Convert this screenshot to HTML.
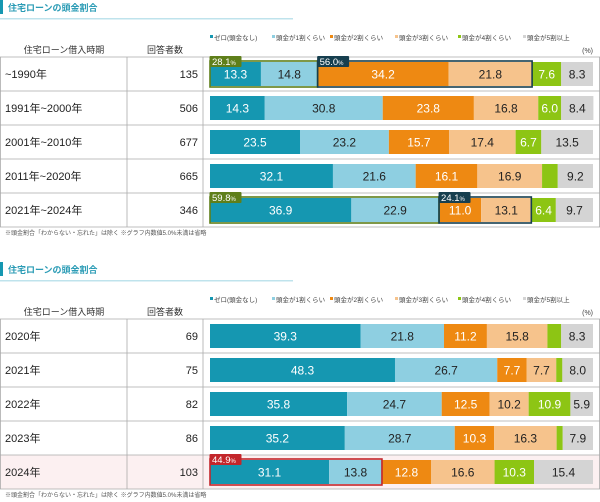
<!DOCTYPE html>
<html><head><meta charset="utf-8">
<style>
body{margin:0;background:#fff;width:600px;height:502px;overflow:hidden;font-family:"Liberation Sans","Noto Sans CJK JP",sans-serif;}
svg{display:block}
</style></head><body>
<svg id="root" width="600" height="502" xmlns="http://www.w3.org/2000/svg"></svg>
<script>
const seriesNames=["ゼロ(頭金なし)","頭金が1割くらい","頭金が2割くらい","頭金が3割くらい","頭金が4割くらい","頭金が5割以上"];
const colors=["#1597b1","#8ecfe1","#ee8912","#f6c38c","#8dc514","#d4d4d4"];
const txtColors=["#fff","#222","#fff","#222","#fff","#222"];
const cats1=["~1990年","1991年~2000年","2001年~2010年","2011年~2020年","2021年~2024年"];
const n1=[135,506,677,665,346];
const s1_zero=[13.3,14.3,23.5,32.1,36.9];
const s1_one=[14.8,30.8,23.2,21.6,22.9];
const s1_two=[34.2,23.8,15.7,16.1,11.0];
const s1_three=[21.8,16.8,17.4,16.9,13.1];
const s1_four=[7.6,6.0,6.7,4.1,6.4];
const s1_five=[8.3,8.4,13.5,9.2,9.7];
const cats2=["2020年","2021年","2022年","2023年","2024年"];
const n2=[69,75,82,86,103];
const s2_zero=[39.3,48.3,35.8,35.2,31.1];
const s2_one=[21.8,26.7,24.7,28.7,13.8];
const s2_two=[11.2,7.7,12.5,10.3,12.8];
const s2_three=[15.8,7.7,10.2,16.3,16.6];
const s2_four=[3.6,1.6,10.9,1.6,10.3];
const s2_five=[8.3,8.0,5.9,7.9,15.4];
const hl1=[[0,0,1,"28.1","#5f7f1a"],[0,2,3,"56.0","#173f4f"],[4,0,1,"59.8","#5f7f1a"],[4,2,3,"24.1","#173f4f"]];
const hl2=[[4,0,1,"44.9","#c3262b"]];

const NS="http://www.w3.org/2000/svg";
const root=document.getElementById('root');
function mk(tag,attrs,parent,text){const e=document.createElementNS(NS,tag);for(const k in attrs)e.setAttribute(k,attrs[k]);if(text!==undefined)e.textContent=text;(parent||root).appendChild(e);return e;}
const X0=210,X1=593;
function xs(v){return v/100*(X1-X0);}
const legendX=[210,272,330,395,458,523];

function drawChart(top,cats,ns,series,hls,pinkRow,idx){
  const g=mk('g',{});
  
  
  const tb=mk('rect',{x:0,y:top,width:3,height:14,fill:'#1597b1'},g);
  
  const t=mk('text',{x:8,y:top+11,'font-size':9,fill:'#2a9bb5','font-weight':'bold'},g,'住宅ローンの頭金割合');
  
  const ul=mk('rect',{x:0,y:top+18,width:293,height:1.5,fill:'#bfe3ec'},g);
  
  const ly=top+40;
  seriesNames.forEach((s,i)=>{
    const lx=legendX[i];
    const r=mk('rect',{x:lx,y:ly-5,width:3,height:3,fill:colors[i]},g);
    
    const tx=mk('text',{x:lx+4,y:ly,'font-size':6.5,fill:'#444'},g,s);
    
  });
  const pc=mk('text',{x:593,y:top+53,'font-size':7,fill:'#444','text-anchor':'end'},g,'(%)');
  
  const h1=mk('text',{x:64,y:top+53,'font-size':9,fill:'#333','text-anchor':'middle'},g,'住宅ローン借入時期');
  
  const h2=mk('text',{x:165,y:top+53,'font-size':9,fill:'#333','text-anchor':'middle'},g,'回答者数');
  
  const tTop=top+57,P=34;
  if(pinkRow>=0){const pr=mk('rect',{x:0,y:tTop+pinkRow*P,width:600,height:P,fill:'#fcf0f1'},g);
    }
  for(let i=0;i<=cats.length;i++){
    const l=mk('line',{x1:0,x2:600,y1:tTop+i*P,y2:tTop+i*P,stroke:'#aaa','stroke-width':0.8},g);
    
  }
  [0.5,127,203,599.5].forEach(x=>{const l=mk('line',{x1:x,x2:x,y1:tTop,y2:tTop+cats.length*P,stroke:'#aaa','stroke-width':0.8},g);
    });
  cats.forEach((c,i)=>{
    const cy=tTop+i*P+P/2;
    const ct=mk('text',{x:5,y:cy+4,'font-size':11,fill:'#222'},g,c);
    
    const nt=mk('text',{x:198,y:cy+4,'font-size':11,fill:'#222','text-anchor':'end'},g,String(ns[i]));
    
    let acc=0;
    series.forEach((arr,si)=>{
      const v=arr[i];const x=X0+xs(acc);const w=xs(v);
      const b=mk('rect',{x:x,y:cy-12,width:w,height:24,fill:colors[si]},g);
      
      if(v>=5){const vt=mk('text',{x:x+w/2,y:cy+4.5,'font-size':12,fill:txtColors[si],'text-anchor':'middle'},g,v.toFixed(1));
        }
      acc+=v;
    });
  });
  hls.forEach(h=>{
    const [row,a,b,lab,col]=h;
    const cy=tTop+row*P+P/2;
    let s=0;for(let k=0;k<a;k++)s+=series[k][row];
    let e=s;for(let k=a;k<=b;k++)e+=series[k][row];
    const x=X0+xs(s)-1,w=xs(e-s)+2;
    const r=mk('rect',{x:x+1,y:cy-13,width:w-2,height:26,fill:'none',stroke:col,'stroke-width':1.6},g);
    
    const tg=mk('rect',{x:x+0.5,y:cy-18,width:32,height:11,fill:col,rx:1},g);
    
    const tt=mk('text',{x:x+3,y:cy-9,'font-size':9.5,fill:'#fff'},g);
    
    mk('tspan',{},tt,lab);mk('tspan',{'font-size':6},tt,'%');
  });
  const fn=mk('text',{x:5,y:tTop+cats.length*P+8,'font-size':6,fill:'#555'},g,'※頭金割合「わからない・忘れた」は除く ※グラフ内数値5.0%未満は省略');
  
}
drawChart(0,cats1,n1,[s1_zero,s1_one,s1_two,s1_three,s1_four,s1_five],hl1,-1,1);
drawChart(262,cats2,n2,[s2_zero,s2_one,s2_two,s2_three,s2_four,s2_five],hl2,4,2);
</script>
</body></html>
